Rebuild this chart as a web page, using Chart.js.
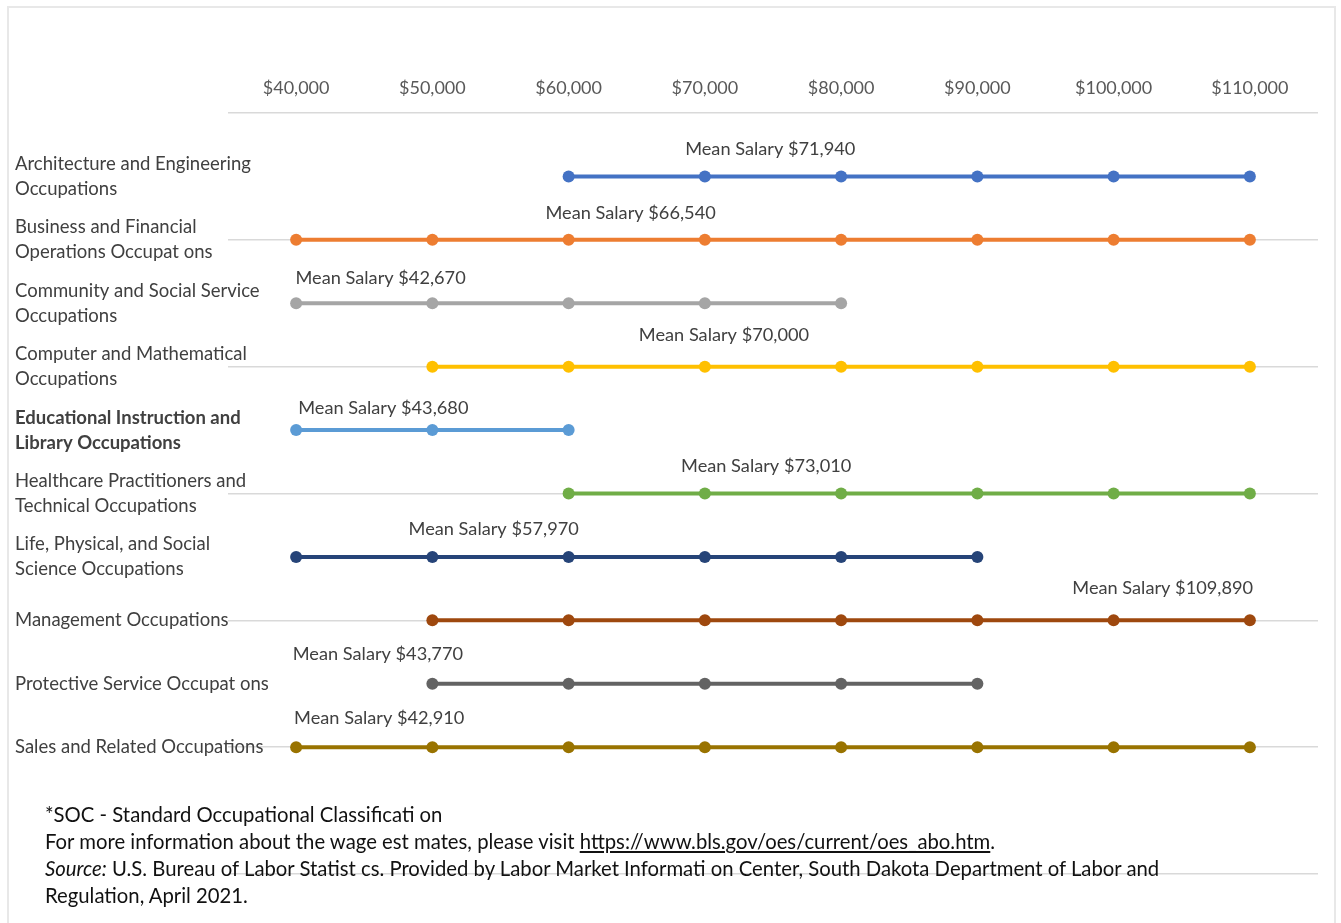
<!DOCTYPE html>
<html>
<head>
<meta charset="utf-8">
<script src="https://cdn.jsdelivr.net/npm/chart.js@4.4.0/dist/chart.umd.min.js"></script>
<style>
  html, body { margin: 0; padding: 0; background: #fff; }
  #wrap { position: relative; width: 1341px; height: 923px; overflow: hidden; }
  #frame { position: absolute; left: 7px; top: 6px; width: 1329px; height: 940px; border: 2px solid #e8e8e8; box-sizing: border-box; }
  #chart { position: absolute; left: 0; top: 0; }
  #notes { position: absolute; left: 45px; top: 801px; font-family: Lato, sans-serif; font-size: 20.3px; line-height: 27px; color: #111; white-space: nowrap; }
  #notes a { color: #111; text-decoration: underline; }
</style>
</head>
<body>
<div id="wrap">
  <div id="frame"></div>
  <canvas id="chart" width="1341" height="923"></canvas>
  <div id="notes">
    <div>*SOC - Standard Occupational Classificati on</div>
    <div>For more information about the wage est mates, please visit <a>https://www.bls.gov/oes/current/oes_abo.htm</a>.</div>
    <div><i>Source:</i> U.S. Bureau of Labor Statist cs. Provided by Labor Market Informati on Center, South Dakota Department of Labor and</div>
    <div>Regulation, April 2021.</div>
  </div>
</div>
<script>
const occupations = [
  ["Architecture and Engineering", "Occupations"],
  ["Business and Financial", "Operations Occupat ons"],
  ["Community and Social Service", "Occupations"],
  ["Computer and Mathematical", "Occupations"],
  ["Educational Instruction and", "Library Occupations"],
  ["Healthcare Practitioners and", "Technical Occupations"],
  ["Life, Physical, and Social", "Science Occupations"],
  ["Management Occupations"],
  ["Protective Service Occupat ons"],
  ["Sales and Related Occupations"]
];

// wage points shown on each line
const archEng = [60000, 70000, 80000, 90000, 100000, 110000];
const business = [40000, 50000, 60000, 70000, 80000, 90000, 100000, 110000];
const community = [40000, 50000, 60000, 70000, 80000];
const computer = [50000, 60000, 70000, 80000, 90000, 100000, 110000];
const education = [40000, 50000, 60000];
const healthcare = [60000, 70000, 80000, 90000, 100000, 110000];
const lifeSci = [40000, 50000, 60000, 70000, 80000, 90000];
const management = [50000, 60000, 70000, 80000, 90000, 100000, 110000];
const protective = [50000, 60000, 70000, 80000, 90000];
const sales = [40000, 50000, 60000, 70000, 80000, 90000, 100000, 110000];

const meanSalaries = [71940, 66540, 42670, 70000, 43680, 73010, 57970, 109890, 43770, 42910];
// where the "Mean Salary" captions sit (salary units, row units)
const meanLabelX = [74800, 64550, 46200, 71400, 46400, 74500, 54500, 103600, 46000, 46100];
const meanLabelY = [-0.43, 0.58, 1.60, 2.50, 3.65, 4.57, 5.56, 6.49, 7.53, 8.54];

const xTicks = [40000, 50000, 60000, 70000, 80000, 90000, 100000, 110000];

const colors = ["#4472C4", "#ED7D31", "#A5A5A5", "#FFC000", "#5B9BD5",
                "#70AD47", "#264478", "#9E480E", "#636363", "#997300"];

const series = [archEng, business, community, computer, education,
                healthcare, lifeSci, management, protective, sales];

const fmt = v => "$" + v.toLocaleString("en-US");

const datasets = series.map((vals, i) => ({
  label: occupations[i].join(" "),
  data: vals.map(v => ({ x: v, y: i })),
  borderColor: colors[i],
  backgroundColor: colors[i],
  borderWidth: 4,
  pointRadius: 6,
  pointHoverRadius: 6,
  pointBorderWidth: 0
}));

// category names overflow into the plot, so draw them here instead of as clipped ticks
const rowLabels = {
  id: "rowLabels",
  afterDraw(chart) {
    const { ctx, scales: { y } } = chart;
    ctx.save();
    ctx.fillStyle = "#404040";
    ctx.textAlign = "left";
    ctx.textBaseline = "middle";
    occupations.forEach((lines, i) => {
      ctx.font = (i === 4 ? "bold " : "") + "18.5px Lato, sans-serif";
      const yc = y.getPixelForValue(i);
      const start = yc - (lines.length - 1) * 12.5;
      lines.forEach((t, k) => ctx.fillText(t, 15, start + k * 25));
    });
    ctx.restore();
  }
};

const meanLabels = {
  id: "meanLabels",
  afterDatasetsDraw(chart) {
    const { ctx, scales: { x, y } } = chart;
    ctx.save();
    ctx.font = "18.2px Lato, sans-serif";
    ctx.fillStyle = "#404040";
    ctx.textAlign = "center";
    ctx.textBaseline = "middle";
    meanSalaries.forEach((m, i) => {
      ctx.fillText("Mean Salary " + fmt(m), x.getPixelForValue(meanLabelX[i]), y.getPixelForValue(meanLabelY[i]));
    });
    ctx.restore();
  }
};

new Chart(document.getElementById("chart"), {
  type: "line",
  data: { datasets },
  options: {
    responsive: false,
    animation: false,
    layout: { padding: { left: 15, right: 23, top: 62, bottom: 49 } },
    plugins: { legend: { display: false }, tooltip: { enabled: false } },
    scales: {
      x: {
        type: "linear",
        position: "top",
        min: 35000,
        max: 115000,
        afterBuildTicks: s => { s.ticks = xTicks.map(v => ({ value: v })); },
        afterFit: s => { s.height = 51; },
        grid: { display: false, drawTicks: false },
        border: { display: false },
        ticks: {
          padding: 14,
          color: "#595959",
          font: { family: "Lato, sans-serif", size: 18 },
          maxRotation: 0,
          callback: v => fmt(v)
        }
      },
      y: {
        type: "linear",
        reverse: true,
        min: -1,
        max: 11,
        afterFit: s => { s.width = 213; },
        border: { display: false },
        grid: {
          drawTicks: false,
          lineWidth: 1.5,
          color: c => (Math.abs(c.tick.value) % 2 === 1 ? "#d9d9d9" : "rgba(0,0,0,0)")
        },
        ticks: {
          stepSize: 1,
          padding: 0,
          callback: () => ""
        }
      }
    }
  },
  plugins: [meanLabels, rowLabels]
});
</script>
</body>
</html>
